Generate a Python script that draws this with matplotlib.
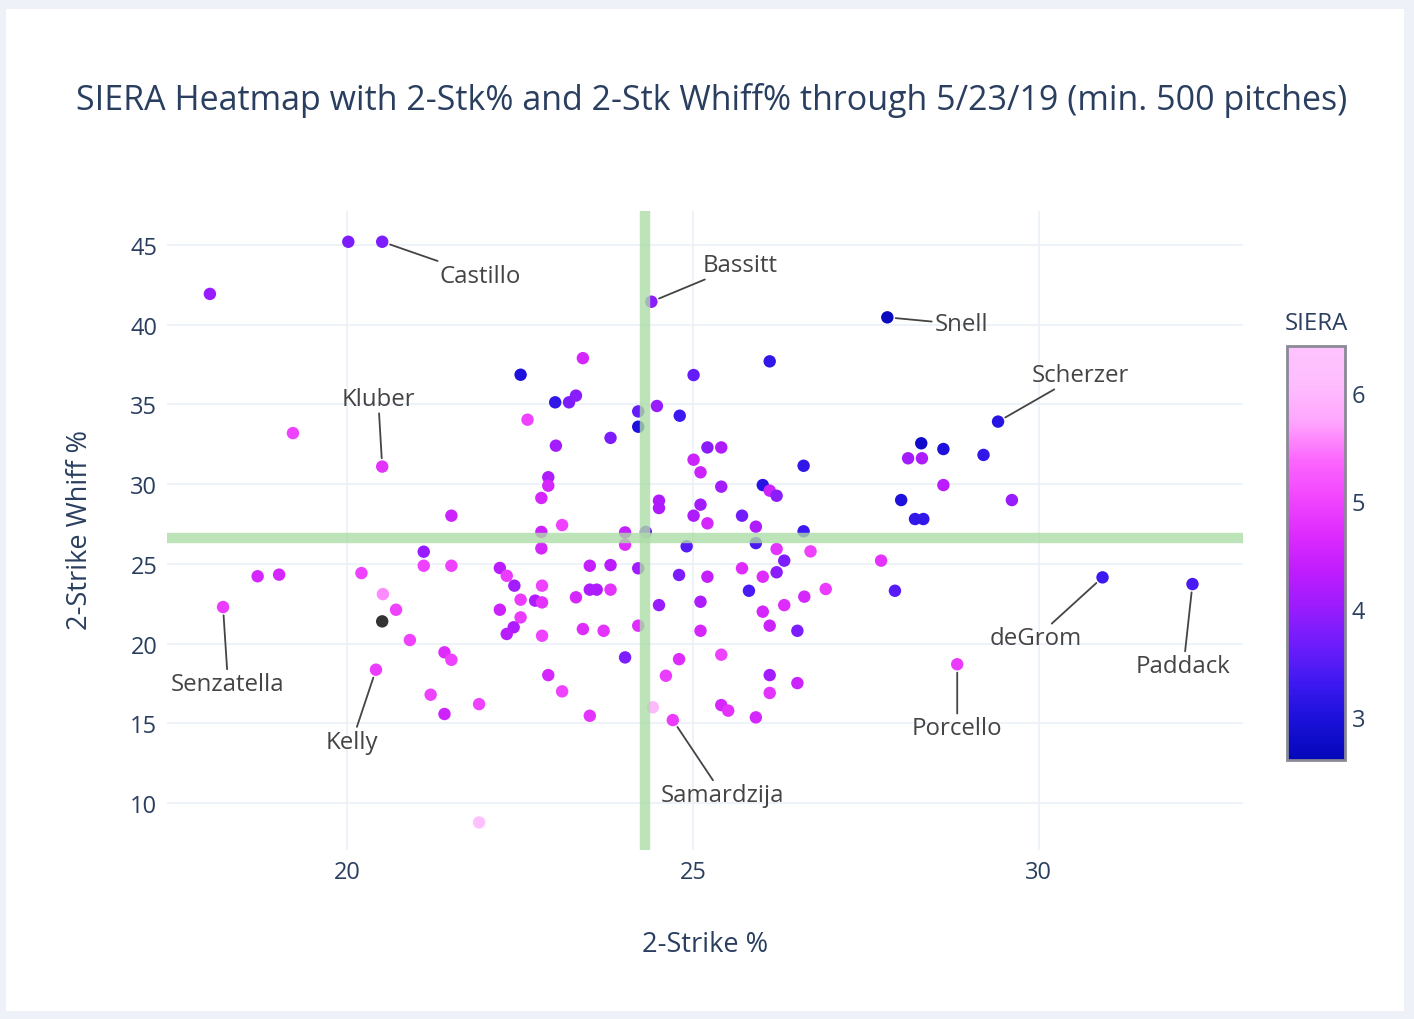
#!/usr/bin/env python3
"""
SIERA heatmap: 2-strike % vs 2-strike whiff % (through 5/23/19, min. 500 pitches)
"""
import numpy as np
import matplotlib
matplotlib.use("Agg")
import matplotlib.pyplot as plt
from matplotlib.colors import LinearSegmentedColormap
from matplotlib.patches import Rectangle

# --- data ---
two_strike_pct = [
    18.02, 20.02, 20.51, 24.40, 19.22, 20.51, 22.51, 23.41, 23.01, 23.21,
    23.31, 22.61, 24.21, 24.21, 23.81, 23.02, 22.91, 22.91, 22.81, 21.51,
    23.11, 22.81, 24.02, 24.32, 24.48, 26.11, 25.01, 24.81, 25.21, 25.41,
    25.01, 25.11, 25.41, 26.60, 26.01, 26.11, 26.21, 24.51, 24.51, 25.11,
    25.01, 25.21, 25.71, 25.91, 26.60, 24.02, 24.91, 25.91, 26.21, 26.70,
    26.32, 24.21, 24.80, 25.21, 25.71, 26.01, 26.21, 25.81, 26.61, 26.92,
    26.32, 24.51, 25.11, 26.01, 26.11, 26.51, 25.11, 24.21, 24.02, 24.80,
    25.41, 24.61, 26.11, 26.51, 26.11, 25.41, 25.51, 25.91, 24.42, 24.71,
    27.81, 29.41, 28.30, 28.62, 29.20, 28.11, 28.31, 28.62, 28.01, 29.61,
    28.21, 28.33, 27.72, 27.92, 30.92, 32.22, 28.82, 18.71, 19.02, 18.21,
    20.21, 20.52, 20.71, 20.91, 20.42, 21.11, 21.11, 21.51, 21.41, 21.51,
    21.21, 21.41, 21.91, 21.91, 22.21, 22.31, 22.42, 22.82, 22.51, 22.72,
    22.82, 22.21, 22.51, 22.41, 22.31, 22.82, 22.91, 23.11, 23.51, 23.31,
    23.51, 23.61, 23.81, 23.51, 23.81, 23.41, 23.71, 22.81, 20.51,
]
two_strike_whiff = [
    41.93, 45.20, 45.20, 41.44, 33.20, 31.10, 36.86, 37.90, 35.13, 35.13,
    35.55, 34.04, 34.56, 33.60, 32.90, 32.41, 30.43, 29.90, 29.13, 28.02,
    27.43, 27.00, 26.97, 27.00, 34.90, 37.70, 36.84, 34.29, 32.30, 32.30,
    31.53, 30.74, 29.84, 31.15, 29.94, 29.59, 29.27, 28.96, 28.50, 28.71,
    28.02, 27.54, 28.02, 27.33, 27.04, 26.20, 26.10, 26.30, 25.93, 25.78,
    25.20, 24.72, 24.30, 24.19, 24.72, 24.19, 24.47, 23.31, 22.94, 23.42,
    22.41, 22.41, 22.62, 22.00, 21.12, 20.80, 20.80, 21.12, 19.13, 19.02,
    19.30, 17.98, 18.02, 17.52, 16.90, 16.14, 15.79, 15.37, 16.00, 15.20,
    40.46, 33.92, 32.56, 32.20, 31.83, 31.62, 31.62, 29.94, 29.00, 29.00,
    27.81, 27.81, 25.20, 23.31, 24.15, 23.73, 18.70, 24.22, 24.32, 22.29,
    24.42, 23.10, 22.12, 20.22, 18.36, 25.76, 24.88, 24.88, 19.45, 18.98,
    16.79, 15.58, 16.20, 8.78, 24.74, 24.25, 23.63, 23.63, 22.75, 22.69,
    22.58, 22.12, 21.64, 21.02, 20.60, 20.49, 18.02, 17.00, 15.47, 22.90,
    23.38, 23.38, 23.38, 24.88, 24.92, 20.91, 20.80, 25.97, 21.39,
]
siera = [
    4.0, 3.8, 3.8, 3.9, 5.0, 4.8, 3.0, 4.6, 3.2, 3.8,
    3.9, 5.0, 3.6, 3.0, 3.8, 4.1, 4.2, 4.6, 4.6, 4.5,
    5.0, 4.5, 4.4, 3.7, 4.0, 3.2, 3.6, 3.3, 3.9, 4.2,
    4.5, 4.5, 4.1, 3.2, 3.1, 4.5, 3.9, 4.2, 4.2, 4.1,
    4.2, 4.6, 3.7, 4.2, 3.3, 4.7, 3.5, 3.4, 4.8, 5.0,
    3.8, 4.1, 3.8, 4.4, 4.7, 4.7, 3.9, 3.4, 4.6, 4.9,
    4.7, 4.0, 4.2, 4.6, 4.5, 3.8, 4.6, 4.7, 3.8, 4.7,
    5.0, 4.9, 4.1, 4.5, 4.8, 4.6, 4.8, 4.6, 6.0, 4.9,
    2.7, 3.1, 2.8, 3.0, 3.2, 4.1, 4.2, 4.3, 3.0, 4.0,
    3.2, 3.2, 4.8, 3.5, 3.3, 3.4, 4.9, 4.6, 4.6, 4.9,
    5.0, 5.6, 5.0, 5.0, 4.9, 4.0, 5.0, 5.0, 4.7, 5.0,
    5.0, 4.5, 5.0, 6.3, 4.3, 4.9, 4.1, 5.0, 4.9, 4.2,
    4.8, 4.5, 4.9, 4.2, 4.3, 5.0, 4.6, 5.0, 4.8, 4.6,
    4.2, 4.2, 4.8, 4.4, 4.3, 4.7, 4.8, 4.6, np.nan,
]

# labelled pitchers: name -> index into the arrays above
labels = ["Castillo", "Bassitt", "Snell", "Scherzer", "Kluber", "deGrom",
          "Paddack", "Porcello", "Senzatella", "Kelly", "Samardzija"]
label_idx = [2, 3, 80, 81, 5, 94, 95, 96, 99, 104, 79]

avg_two_strike = 24.31
avg_whiff = 26.62

# --- plotting ---
plotly3 = ['#0508b8', '#1910d8', '#3c19f0', '#6b1cfb', '#981cfd', '#bf1cfd',
           '#dd2bfd', '#f246fe', '#fc67fd', '#fea5fd', '#febefe', '#fec3fe']
cmap = LinearSegmentedColormap.from_list("plotly3", plotly3)
cmap.set_bad('#333333')

plt.rcParams['font.family'] = ['Open Sans', 'DejaVu Sans']
text_col = '#2a3f5f'
W, H = 1414, 1020

fig = plt.figure(figsize=(W / 100, H / 100), dpi=100, facecolor='#eef2f8')
# white page inside the light frame
fig.patches.append(Rectangle((6 / W, 1 - 1012 / H), 1398 / W, 1002 / H,
                             transform=fig.transFigure, facecolor='white',
                             edgecolor='none', zorder=-10))

ax = fig.add_axes([167 / W, 1 - 851 / H, (1243 - 167) / W, (851 - 212) / H])
ax.set_facecolor('white')

sc = ax.scatter(two_strike_pct, two_strike_whiff, c=siera, cmap=cmap,
                vmin=2.6, vmax=6.44, s=80, linewidths=0, plotnonfinite=True,
                zorder=3)

ax.axvline(avg_two_strike, color='#addcA6', lw=7.5, alpha=0.8, zorder=4)
ax.axhline(avg_whiff, color='#addcA6', lw=7.5, alpha=0.8, zorder=4)

ax.set_xlim(17.4, 32.95)
ax.set_ylim(7.05, 47.13)
ax.set_xticks([20, 25, 30])
ax.set_yticks(range(10, 50, 5))
ax.grid(True, color='#ebf0f8', lw=1.2, zorder=0)
ax.set_axisbelow(True)
for sp in ax.spines.values():
    sp.set_visible(False)
ax.tick_params(length=0, labelsize=17, labelcolor=text_col, pad=7)

ax.set_xlabel('2-Strike %', fontsize=19.5, color=text_col, va='center')
ax.set_ylabel('2-Strike Whiff %', fontsize=19.5, color=text_col, va='center')
ax.xaxis.set_label_coords(0.5, -(945 - 851) / 639)
ax.yaxis.set_label_coords((80 - 167) / 1076, (851 - 530) / 639)

fig.text(712 / W, 1 - 100 / H,
         'SIERA Heatmap with 2-Stk% and 2-Stk Whiff% through 5/23/19 (min. 500 pitches)',
         ha='center', va='center', fontsize=24.5, color=text_col)

# annotation offsets in pixels (text centre relative to point)
offsets = [(98, -34), (89, 37), (74, -7), (82, 47), (-4, 68), (-67, -61),
           (-9, -82), (0, -64), (5, -77), (-24, -72), (50, -75)]
for name, i, off in zip(labels, label_idx, offsets):
    ax.annotate(name, xy=(two_strike_pct[i], two_strike_whiff[i]),
                xytext=off, textcoords='offset pixels',
                ha='center', va='center', fontsize=17.3, color='#444444',
                arrowprops=dict(arrowstyle='-', color='#444444', lw=1.3,
                                shrinkA=0, shrinkB=6),
                zorder=5)

# colorbar
cax = fig.add_axes([1287 / W, 1 - 761 / H, 58 / W, 414 / H])
cb = fig.colorbar(sc, cax=cax)
cb.outline.set_edgecolor('#8a8a96')
cb.outline.set_linewidth(2)
cb.set_ticks([3, 4, 5, 6])
cax.tick_params(length=0, labelsize=17, labelcolor=text_col, pad=5)
cax.set_title('SIERA', fontsize=17.3, color=text_col, pad=12)

plt.savefig('out.png', dpi=100, facecolor=fig.get_facecolor())
